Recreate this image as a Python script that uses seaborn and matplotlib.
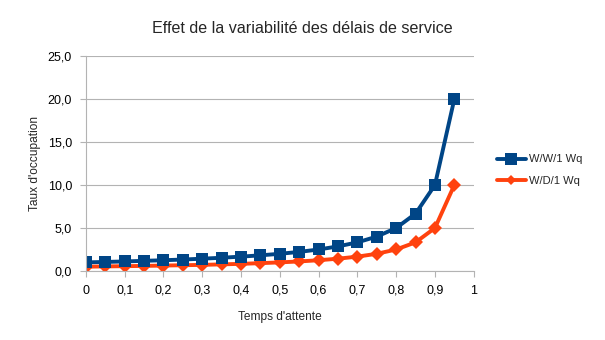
import matplotlib
matplotlib.use("Agg")
import matplotlib.pyplot as plt
import seaborn as sns
import pandas as pd
from matplotlib.lines import Line2D

rho = [0.0, 0.05, 0.1, 0.15, 0.2, 0.25, 0.3, 0.35, 0.4, 0.45,
       0.5, 0.55, 0.6, 0.65, 0.7, 0.75, 0.8, 0.85, 0.9, 0.95]
ww1 = [1.00, 1.05, 1.11, 1.18, 1.25, 1.33, 1.43, 1.54, 1.67, 1.82,
       2.00, 2.22, 2.50, 2.86, 3.33, 4.00, 5.00, 6.67, 10.00, 20.00]
wd1 = [0.50, 0.53, 0.56, 0.59, 0.63, 0.67, 0.71, 0.77, 0.83, 0.91,
       1.00, 1.11, 1.25, 1.43, 1.67, 2.00, 2.50, 3.33, 5.00, 10.00]
series_names = ["W/W/1 Wq", "W/D/1 Wq"]
x_ticks = [0, 0.1, 0.2, 0.3, 0.4, 0.5, 0.6, 0.7, 0.8, 0.9, 1]
x_labels = ["0", "0,1", "0,2", "0,3", "0,4", "0,5", "0,6", "0,7", "0,8", "0,9", "1"]
y_ticks = [0, 5, 10, 15, 20, 25]
y_labels = ["0,0", "5,0", "10,0", "15,0", "20,0", "25,0"]

df = pd.DataFrame({
    "x": rho + rho,
    "y": ww1 + wd1,
    "serie": [series_names[0]] * len(rho) + [series_names[1]] * len(rho),
})

sns.set_style("white")
plt.rcParams["font.family"] = ["Liberation Sans", "DejaVu Sans"]

fig = plt.figure(figsize=(6.05, 3.4), dpi=100)
ax = fig.add_axes([0.142, 0.203, 0.641, 0.632])

blue, orange = "#004586", "#ff420e"
sns.lineplot(data=df[df.serie == series_names[1]], x="x", y="y", color=orange,
             marker="D", markersize=7, markeredgewidth=0, linewidth=2.8,
             ax=ax, legend=False)
sns.lineplot(data=df[df.serie == series_names[0]], x="x", y="y", color=blue,
             marker="s", markersize=9, markeredgewidth=0, linewidth=2.8,
             ax=ax, legend=False)

ax.set_xlim(0, 1)
ax.set_ylim(0, 25)
ax.set_xticks(x_ticks)
ax.set_xticklabels(x_labels)
ax.set_yticks(y_ticks)
ax.set_yticklabels(y_labels)
ax.grid(axis="y", color="#b3b3b3", linewidth=0.8)
ax.set_axisbelow(True)
for s in ["top", "right"]:
    ax.spines[s].set_visible(False)
for s in ["left", "bottom"]:
    ax.spines[s].set_color("#b3b3b3")
    ax.spines[s].set_linewidth(0.8)
ax.tick_params(axis="both", which="major", length=4, width=0.8, color="#b3b3b3",
               labelsize=9, labelcolor="#000000", pad=6, direction="out",
               bottom=True, left=True)

ax.set_xlabel("Temps d'attente", fontsize=8.6, labelpad=10)
ax.set_ylabel("Taux d'occupation", fontsize=8.6, labelpad=5)
fig.text(0.5, 0.915, "Effet de la variabilité des délais de service",
         ha="center", va="center", fontsize=11.6)

handles = [Line2D([], [], color=blue, marker="s", linewidth=2.8, markersize=8, markeredgewidth=0),
           Line2D([], [], color=orange, marker="D", linewidth=2.8, markersize=5, markeredgewidth=0)]
fig.legend(handles, series_names, loc="center left", bbox_to_anchor=(0.805, 0.5),
           frameon=False, fontsize=8, handlelength=2.6, handletextpad=0.3,
           labelspacing=1.0)

fig.savefig("out.png", dpi=100)
